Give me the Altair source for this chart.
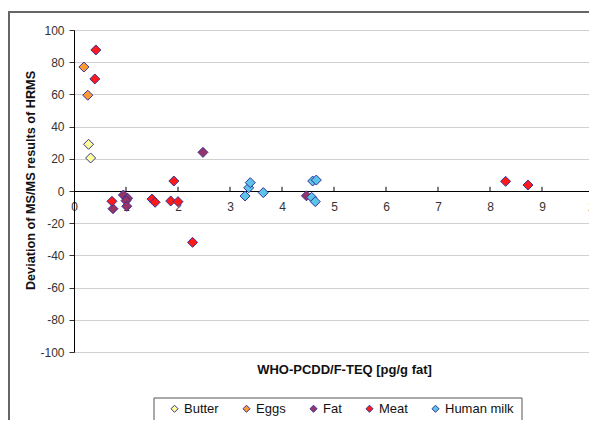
import altair as alt
import pandas as pd

series = ["Butter", "Eggs", "Fat", "Meat", "Human milk"]
colors = ["#FFFF99", "#FF9933", "#993366", "#FF1A1A", "#5BC4E8"]

butter_x = [0.28, 0.32]
butter_y = [29, 20.5]
eggs_x = [0.19, 0.265]
eggs_y = [77, 59.5]
fat_x = [0.75, 0.95, 1.03, 1.0, 1.015, 2.48, 4.47]
fat_y = [-11, -2.5, -4.5, -6, -9.5, 24, -3]
meat_x = [0.42, 0.40, 0.73, 1.5, 1.56, 1.86, 2.0, 1.92, 2.28, 8.3, 8.73]
meat_y = [87.6, 69.6, -6.4, -5, -7, -6.2, -6.6, 6.2, -31.9, 6, 3.7]
milk_x = [3.29, 3.36, 3.39, 3.64, 4.57, 4.64, 4.59, 4.66]
milk_y = [-3.1, 2, 5.2, -1, -3.9, -6.6, 6.2, 6.8]

x_ticks = [0, 1, 2, 3, 4, 5, 6, 7, 8, 9, 10]
y_ticks = [-100, -80, -60, -40, -20, 0, 20, 40, 60, 80, 100]

rows = []
for name, xs, ys in [("Butter", butter_x, butter_y), ("Eggs", eggs_x, eggs_y),
                     ("Fat", fat_x, fat_y), ("Meat", meat_x, meat_y),
                     ("Human milk", milk_x, milk_y)]:
    for a, b in zip(xs, ys):
        rows.append({"series": name, "x": a, "y": b})
df = pd.DataFrame(rows)
ticks_df = pd.DataFrame({"t": x_ticks[1:], "y0": 0, "y1": 2.6})

FONT = "Liberation Sans"
W, H = 520, 322

xscale = alt.Scale(domain=[0, 10], nice=False, zero=False)
yscale = alt.Scale(domain=[-100, 100], nice=False)

points = alt.Chart(df).mark_point(
    shape="diamond", filled=True, size=100, stroke="#333399", strokeWidth=1, opacity=1
).encode(
    x=alt.X("x:Q", scale=xscale,
            axis=alt.Axis(values=x_ticks, tickCount=len(x_ticks), offset=-161,
                          ticks=False, tickSize=0,
                          labelPadding=10, grid=False, domainColor="#000000",
                          domainWidth=1.2, labelFontSize=12, labelColor="#333333",
                          labelFont=FONT, labelOverlap=False,
                          labelExpr="'' + datum.value",
                          title="WHO-PCDD/F-TEQ [pg/g fat]",
                          titleFont=FONT, titleFontSize=13, titleFontWeight="bold",
                          titleColor="#111111", titleX=270, titleY=182,
                          titleBaseline="alphabetic", labelFlush=False)),
    y=alt.Y("y:Q", scale=yscale,
            axis=alt.Axis(values=y_ticks, tickCount=len(y_ticks), grid=True,
                          gridColor="#D0D0D0", gridWidth=1,
                          tickSize=5, tickColor="#333333", labelPadding=5,
                          domainColor="#000000", labelFontSize=12, labelColor="#333333",
                          labelFont=FONT, labelOverlap=False,
                          labelExpr="'' + datum.value",
                          title="Deviation of MS/MS results of HRMS",
                          titleFont=FONT, titleFontSize=12.7, titleFontWeight="bold",
                          titleColor="#111111", titleX=-37, titleY=150,
                          titleBaseline="bottom")),
    color=alt.Color("series:N", scale=alt.Scale(domain=series, range=colors),
                    legend=alt.Legend(orient="none", legendX=94, legendY=372,
                                      direction="horizontal", title=None,
                                      symbolType="diamond", symbolSize=50,
                                      symbolStrokeColor="#333399", symbolStrokeWidth=1,
                                      labelFont=FONT, labelFontSize=13,
                                      labelColor="#111111", labelOffset=3,
                                      columnPadding=21, padding=0)),
)

xticks = alt.Chart(ticks_df).mark_rule(color="#000000", strokeWidth=1).encode(
    x=alt.X("t:Q", scale=xscale),
    y=alt.Y("y0:Q", scale=yscale),
    y2="y1:Q",
)

frame = alt.Chart(pd.DataFrame({"a": [0]})).mark_rect(
    fill=None, stroke="#666666", strokeWidth=2
).encode(x=alt.value(-65), x2=alt.value(700), y=alt.value(-18), y2=alt.value(600))

legend_box = alt.Chart(pd.DataFrame({"a": [0]})).mark_rect(
    fill=None, stroke="#555555", strokeWidth=1
).encode(x=alt.value(80), x2=alt.value(448), y=alt.value(368), y2=alt.value(392))

chart = alt.layer(frame, legend_box, xticks, points).properties(
    width=W, height=H,
    autosize=alt.AutoSizeParams(type="none"),
    padding={"left": 66, "top": 22, "right": -5, "bottom": 68},
).configure_view(stroke=None).configure(background="white")

chart.save("out.html", embed_options={"renderer": "svg", "actions": False})
